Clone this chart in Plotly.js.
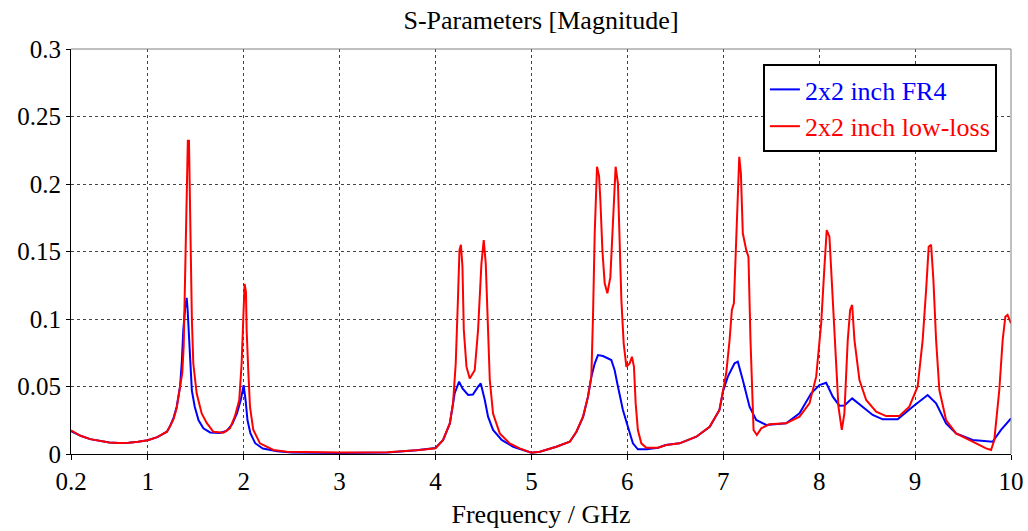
<!DOCTYPE html>
<html>
<head>
<meta charset="utf-8">
<script src="https://cdn.plot.ly/plotly-3.0.1.min.js"></script>
<style>
  html, body { margin: 0; padding: 0; background: #fff; }
  #chart { width: 1028px; height: 531px; }
</style>
</head>
<body>
<div id="chart"></div>
<script>
// ---- Data ----
const chartTitle = 'S-Parameters [Magnitude]';
const xAxisTitle = 'Frequency / GHz';
const seriesNames = ['2x2 inch FR4', '2x2 inch low-loss'];
const seriesColors = ['#0000ff', '#ff0000'];

const xTickVals = [0.2, 1, 2, 3, 4, 5, 6, 7, 8, 9, 10];
const xTickText = ['0.2', '1', '2', '3', '4', '5', '6', '7', '8', '9', '10'];
const yTickVals = [0, 0.05, 0.1, 0.15, 0.2, 0.25, 0.3];
const yTickText = ['0', '0.05', '0.1', '0.15', '0.2', '0.25', '0.3'];

// 2x2 inch FR4 (blue)
const fr4Freq = [
  0.2, 0.3, 0.4, 0.5, 0.6, 0.7, 0.8, 0.9, 1.0, 1.1, 1.2, 1.232, 1.27, 1.302, 1.337,
  1.355, 1.371, 1.39, 1.406, 1.415, 1.425, 1.44, 1.46, 1.49, 1.53, 1.58, 1.65, 1.75,
  1.82, 1.88, 1.93, 1.97, 2.0, 2.02, 2.04, 2.07, 2.12, 2.2, 2.35, 2.5, 3.0, 3.5,
  3.8, 4.0, 4.08, 4.15, 4.2, 4.246, 4.281, 4.34, 4.39, 4.444, 4.472, 4.514, 4.548,
  4.6, 4.69, 4.81, 5.0, 5.09, 5.26, 5.4, 5.47, 5.54, 5.59, 5.625, 5.66, 5.694,
  5.746, 5.833, 5.868, 5.902, 5.954, 6.006, 6.058, 6.11, 6.2, 6.32, 6.4, 6.545,
  6.72, 6.86, 6.96, 7.0, 7.048, 7.118, 7.152, 7.204, 7.274, 7.344, 7.448, 7.656,
  7.795, 7.917, 8.003, 8.073, 8.142, 8.211, 8.263, 8.344, 8.438, 8.558, 8.663,
  8.819, 8.975, 9.131, 9.219, 9.323, 9.427, 9.6, 9.808, 9.896, 10.0
];
const fr4Mag = [
  0.017, 0.0135, 0.011, 0.0095, 0.0085, 0.0082, 0.0083, 0.009, 0.0102, 0.0125, 0.0165, 0.0205, 0.027, 0.035, 0.05,
  0.068, 0.092, 0.108, 0.1156, 0.108, 0.092, 0.067, 0.047, 0.035, 0.025, 0.019, 0.016, 0.0155,
  0.017, 0.022, 0.03, 0.04, 0.051, 0.04, 0.025, 0.0155, 0.008, 0.004, 0.002, 0.0012, 0.0008, 0.0012,
  0.0028, 0.0045, 0.0104, 0.0227, 0.045, 0.0536, 0.0486, 0.0437, 0.044, 0.0499, 0.0523, 0.04, 0.0277,
  0.0178, 0.0104, 0.0054, 0.001, 0.0017, 0.0054, 0.0091, 0.0165, 0.0277, 0.0425, 0.0573, 0.067, 0.0733,
  0.0726, 0.0696, 0.062, 0.05, 0.0326, 0.0202, 0.0079, 0.0035, 0.0035, 0.0047, 0.0067, 0.0079,
  0.0128, 0.0202, 0.0326, 0.047, 0.0573, 0.0672, 0.0684, 0.0548, 0.035, 0.0252, 0.0215, 0.0227,
  0.0301, 0.045, 0.0511, 0.0528, 0.0425, 0.0358, 0.036, 0.0412, 0.036, 0.0289, 0.0257,
  0.0257, 0.035, 0.0437, 0.0375, 0.0227, 0.0153, 0.0104, 0.0091, 0.0178, 0.0264
];

// 2x2 inch low-loss (red)
const lowLossFreq = [
  0.2, 0.3, 0.4, 0.5, 0.6, 0.7, 0.8, 0.9, 1.0, 1.1, 1.2, 1.232, 1.27, 1.302, 1.337,
  1.36, 1.375, 1.388, 1.398, 1.406, 1.413, 1.418, 1.43, 1.436, 1.443, 1.452, 1.46,
  1.475, 1.51, 1.5625, 1.615, 1.684, 1.788, 1.857, 1.909, 1.954, 1.979, 1.996, 2.01,
  2.024, 2.031, 2.048, 2.066, 2.1, 2.17, 2.31, 2.45, 3.0, 3.5, 3.836, 4.0, 4.079,
  4.149, 4.183, 4.211, 4.235, 4.25, 4.265, 4.281, 4.295, 4.323, 4.357, 4.409, 4.444,
  4.479, 4.503, 4.524, 4.548, 4.566, 4.6, 4.67, 4.774, 4.878, 5.0, 5.086, 5.26, 5.4,
  5.469, 5.538, 5.59, 5.625, 5.642, 5.66, 5.684, 5.705, 5.719, 5.74, 5.764, 5.792,
  5.823, 5.85, 5.878, 5.902, 5.92, 5.938, 5.962, 5.99, 6.024, 6.048, 6.069, 6.087,
  6.11, 6.146, 6.198, 6.32, 6.406, 6.545, 6.719, 6.857, 6.961, 7.0, 7.031, 7.066,
  7.09, 7.111, 7.136, 7.152, 7.167, 7.184, 7.204, 7.24, 7.263, 7.284, 7.316, 7.35,
  7.396, 7.482, 7.656, 7.795, 7.899, 7.969, 8.021, 8.055, 8.079, 8.107, 8.135, 8.167,
  8.201, 8.236, 8.263, 8.298, 8.323, 8.344, 8.368, 8.42, 8.49, 8.594, 8.698, 8.836,
  8.94, 9.027, 9.079, 9.115, 9.142, 9.167, 9.191, 9.219, 9.253, 9.323, 9.427, 9.6,
  9.74, 9.792, 9.826, 9.878, 9.913, 9.941, 9.964, 10.0
];
const lowLossMag = [
  0.0175, 0.0135, 0.011, 0.0095, 0.0085, 0.0082, 0.0083, 0.009, 0.0102, 0.0125, 0.0165, 0.0205, 0.026, 0.034, 0.048,
  0.06, 0.08, 0.126, 0.17, 0.205, 0.232, 0.232, 0.232, 0.2, 0.175, 0.141, 0.1,
  0.067, 0.045, 0.03, 0.023, 0.0165, 0.0158, 0.019, 0.028, 0.04, 0.067, 0.1, 0.126,
  0.12, 0.092, 0.062, 0.035, 0.018, 0.0079, 0.003, 0.0017, 0.0012, 0.0013, 0.003, 0.0042, 0.0104,
  0.0227, 0.0375, 0.067, 0.1165, 0.151, 0.155, 0.139, 0.092, 0.0647, 0.056, 0.062, 0.092,
  0.141, 0.1585, 0.141, 0.092, 0.055, 0.03, 0.0153, 0.0079, 0.0042, 0.001, 0.0017, 0.0054, 0.0091,
  0.0165, 0.0277, 0.0425, 0.0573, 0.1017, 0.1635, 0.2128, 0.206, 0.188, 0.151, 0.1264, 0.119,
  0.131, 0.176, 0.2128, 0.2005, 0.151, 0.114, 0.082, 0.0647, 0.067, 0.072, 0.0647, 0.0375,
  0.0178, 0.0079, 0.0047, 0.0047, 0.0067, 0.0079, 0.0128, 0.0202, 0.0326, 0.047, 0.0598, 0.0844,
  0.1067, 0.1116, 0.1585, 0.1956, 0.2202, 0.208, 0.1635, 0.151, 0.146, 0.0844, 0.0178, 0.0141,
  0.019, 0.022, 0.0227, 0.0277, 0.0375, 0.0573, 0.0968, 0.1387, 0.1659, 0.161, 0.1215, 0.072,
  0.035, 0.0178, 0.0301, 0.0844, 0.1067, 0.1104, 0.0844, 0.0548, 0.04, 0.0314, 0.0281, 0.0281,
  0.035, 0.05, 0.0844, 0.1215, 0.1536, 0.155, 0.129, 0.0844, 0.0474, 0.0252, 0.0153, 0.0091,
  0.0042, 0.003, 0.0104, 0.0474, 0.0844, 0.1017, 0.103, 0.0968
];

// ---- Chart ----
const FONT = '"Liberation Serif", "Times New Roman", serif';

function legendName(name, color) {
  return '<span style="color:' + color + '">' + name + '</span>';
}

const traces = [
  {
    x: fr4Freq, y: fr4Mag, type: 'scatter', mode: 'lines',
    name: legendName(seriesNames[0], seriesColors[0]),
    line: { color: seriesColors[0], width: 2 }
  },
  {
    x: lowLossFreq, y: lowLossMag, type: 'scatter', mode: 'lines',
    name: legendName(seriesNames[1], seriesColors[1]),
    line: { color: seriesColors[1], width: 2 }
  }
];

const layout = {
  width: 1028,
  height: 531,
  margin: { l: 71, r: 17, t: 49, b: 77, pad: 0 },
  paper_bgcolor: '#ffffff',
  plot_bgcolor: '#ffffff',
  font: { family: FONT, size: 25, color: '#000000' },
  title: {
    text: chartTitle,
    font: { family: FONT, size: 26, color: '#000000' },
    x: 0.5, xref: 'paper', xanchor: 'center',
    y: 1 - 20 / 531, yref: 'container', yanchor: 'middle'
  },
  xaxis: {
    range: [0.2, 10],
    tickmode: 'array', tickvals: xTickVals, ticktext: xTickText,
    showgrid: true, gridcolor: '#444444', gridwidth: 1, griddash: '3px,3px',
    zeroline: false,
    showline: true, linecolor: '#000000', linewidth: 1,
    ticks: 'outside', ticklen: 5, tickcolor: '#000000', tickwidth: 1,
    tickfont: { family: FONT, size: 25, color: '#000000' },
    title: { text: xAxisTitle, font: { family: FONT, size: 26, color: '#000000' }, standoff: 10 },
    fixedrange: true
  },
  yaxis: {
    range: [0, 0.3],
    tickmode: 'array', tickvals: yTickVals, ticktext: yTickText,
    showgrid: true, gridcolor: '#444444', gridwidth: 1, griddash: '3px,3px',
    zeroline: false,
    showline: true, linecolor: '#000000', linewidth: 1,
    ticks: 'outside', ticklen: 4, tickcolor: '#000000', tickwidth: 1,
    tickfont: { family: FONT, size: 25, color: '#000000' },
    fixedrange: true
  },
  legend: {
    x: 0.985, xanchor: 'right', xref: 'paper',
    y: 0.963, yanchor: 'top', yref: 'paper',
    bgcolor: '#ffffff', bordercolor: '#000000', borderwidth: 2,
    font: { family: FONT, size: 26, color: '#000000' },
    tracegroupgap: 0
  },
  showlegend: true,
  shapes: [
    { type: 'line', xref: 'paper', yref: 'paper', x0: 0, x1: 1, y0: 1, y1: 1,
      line: { color: '#808080', width: 1 }, layer: 'above' },
    { type: 'line', xref: 'paper', yref: 'paper', x0: 1, x1: 1, y0: 0, y1: 1,
      line: { color: '#808080', width: 1 }, layer: 'above' }
  ]
};

Plotly.newPlot('chart', traces, layout, { displayModeBar: false, staticPlot: true });
</script>
</body>
</html>
